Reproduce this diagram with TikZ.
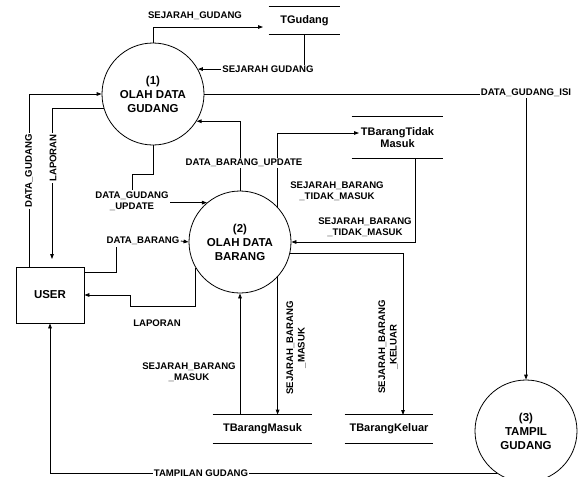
\documentclass[tikz,border=0pt]{standalone}
\usepackage{fontspec}
\setmainfont{Liberation Sans}
\usetikzlibrary{arrows.meta,calc}
\begin{document}
\begin{tikzpicture}[x=1pt,y=-1pt,line width=0.8pt,
  arr/.style={-{Triangle[length=5pt,width=3.6pt]}},
  proc/.style={circle,draw,minimum size=102pt,inner sep=0pt,align=center,font=\fontsize{11.5}{14}\selectfont\bfseries},
  store/.style={inner sep=0pt,align=center,font=\fontsize{11}{12.5}\selectfont\bfseries},
  ent/.style={draw,inner sep=0pt,font=\fontsize{11.5}{14}\selectfont\bfseries},
  lbl/.style={inner sep=1pt,align=center,font=\fontsize{9.6}{11.5}\selectfont\bfseries},
  lblw/.style={lbl,fill=white}]
\useasboundingbox (0,0) rectangle (579,477);
% processes
\node[proc] (c1) at (153,94) {(1)\\OLAH DATA\\GUDANG};
\node[proc] (c2) at (240,242) {(2)\\OLAH DATA\\BARANG};
\node[proc] (c3) at (526,431) {(3)\\TAMPIL\\GUDANG};
% entity
\node[ent,minimum width=68pt,minimum height=56pt] (user) at (50,295) {USER};
% stores
\node[store,minimum width=71pt,minimum height=27pt] (tg) at (304.5,20.5) {TGudang};
\node[store,minimum width=91pt,minimum height=41pt] (tbtm) at (397.5,137.5) {TBarangTidak\\Masuk};
\node[store,minimum width=99pt,minimum height=28pt] (tbm) at (262.5,429) {TBarangMasuk};
\node[store,minimum width=88pt,minimum height=28pt] (tbk) at (389,429) {TBarangKeluar};
\foreach \s in {tg,tbtm,tbm,tbk}
  \draw (\s.north west) -- (\s.north east) (\s.south west) -- (\s.south east);
% plain labels
\node[lbl] (l1) at (195,16) {SEJARAH\_GUDANG};
\node[lbl] (l6) at (132,201) {DATA\_GUDANG\\\_UPDATE};
\node[lbl] (l7) at (143,241) {DATA\_BARANG};
\node[lbl] (l8) at (157,323) {LAPORAN};
\node[lbl] (l10) at (337,191) {SEJARAH\_BARANG\\\_TIDAK\_MASUK};
\node[lbl] (l11) at (365,227) {SEJARAH\_BARANG\\\_TIDAK\_MASUK};
\node[lbl,rotate=90] (l12) at (296,348) {SEJARAH\_BARANG\\\_MASUK};
\node[lbl,rotate=90] (l13) at (388,347) {SEJARAH\_BARANG\\\_KELUAR};
\node[lbl] (l14) at (189,372) {SEJARAH\_BARANG\\\_MASUK};
% helper coordinates
\coordinate (p1) at (263,27);
\coordinate (u1) at (29,267);
\coordinate (u2) at (52,259);
\coordinate (p3) at (132,174);
\coordinate (u3) at (84,272);
\coordinate (p4) at (116,247);
\coordinate (p5) at (130,306);
\coordinate (p6) at (359,133);
\coordinate (p7) at (415,158);
\coordinate (p8) at (403,415);
% connectors
\draw[arr] (c1.north) |- (p1);
\draw[arr] (tg.south) |- (c1.29.3);
\draw[arr] (c1.east) -| (c3.north);
\draw[arr] (u1) |- (c1.west);
\draw[arr] (c1.196) -| (u2);
\draw (c1.south) |- (p3) -- (l6.north);
\draw[arr] (l6.east |- c2.130) -- (c2.130);
\draw (u3) -| (p4);
\draw[arr] (l7.east) -- (c2.west);
\draw[arr] (c2.210.6) |- (p5) |- (user.east);
\draw[arr] (c2.north) |- (c1.-32.1);
\draw[arr] (c2.43.4) |- (p6);
\draw[arr] (p7) |- (c2.east);
\draw[arr] (c2.-13.6) -| (p8);
\draw[arr] (c2.-43.4) -- (c2.-43.4 |- tbm.north);
\draw[arr] (tbm.north -| c2.south) -- (c2.south);
\draw[arr] (c3.235.4) -| (user.south);
% labels sitting on lines
\node[lblw] (l2) at (268,69) {SEJARAH GUDANG};
\node[lblw] (l3) at (526,93) {DATA\_GUDANG\_ISI};
\node[lblw,rotate=90] (l4) at (29,171) {DATA\_GUDANG};
\node[lblw,rotate=90] (l5) at (53,158) {LAPORAN};
\node[lblw] (l9) at (244,163) {DATA\_BARANG\_UPDATE};
\node[lblw] (l15) at (201,473) {TAMPILAN GUDANG};
\end{tikzpicture}
\end{document}
